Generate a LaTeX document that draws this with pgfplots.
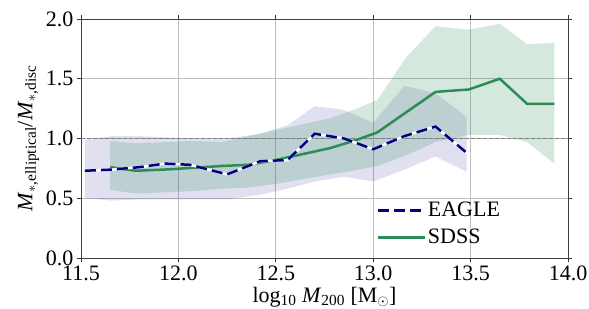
\documentclass[border=0pt]{standalone}
\usepackage{pgfplots}
\pgfplotsset{compat=1.18}
\usepgfplotslibrary{fillbetween}
\usepackage{fontspec}
\setmainfont{Liberation Serif}
\definecolor{eaglec}{RGB}{0,0,128}
\definecolor{sdssc}{RGB}{46,139,87}
\begin{document}
\begin{tikzpicture}[font=\fontsize{22}{26}\selectfont]
\begin{axis}[
  scale only axis, width=487pt, height=239pt,
  xmin=11.5, xmax=14, ymin=0, ymax=2,
  xtick={11.5,12.0,12.5,13.0,13.5,14.0},
  ytick={0,0.5,1.0,1.5,2.0},
  tick align=outside, major tick length=4pt,
  tick style={black!80, line width=0.8pt},
  axis line style={black!75, line width=0.9pt},
  grid=major, major grid style={black!25, line width=0.8pt},
  x tick label style={/pgf/number format/.cd, fixed, fixed zerofill, precision=1, assume math mode=true},
  y tick label style={/pgf/number format/.cd, fixed, fixed zerofill, precision=1, assume math mode=true},
  xlabel={log\textsubscript{10} \textit{M}\textsubscript{200} [M\textsubscript{$\odot$}]},
  ylabel={\textit{M}\textsubscript{$*$,elliptical}/\textit{M}\textsubscript{$*$,disc}},
  legend style={draw=none, fill=none, at={(0.6,0.035)}, anchor=south west, row sep=7pt},
  legend cell align=left,
  legend image code/.code={\draw[#1] (0pt,0pt) -- (47pt,0pt);},
]
\addlegendimage{eaglec, line width=2.5pt, dash pattern=on 11pt off 5pt}
\addlegendentry{EAGLE}
\addlegendimage{sdssc, line width=2.5pt}
\addlegendentry{SDSS}

% EAGLE band
\addplot[name path=eu, draw=none, forget plot] coordinates {
(11.52,0.99) (11.66,1.02) (11.80,1.02) (11.93,1.01) (12.06,1.00) (12.25,1.00) (12.42,1.04) (12.56,1.11) (12.70,1.27) (12.85,1.24) (13.00,1.13) (13.16,1.44) (13.32,1.38) (13.48,1.18)};
\addplot[name path=el, draw=none, forget plot] coordinates {
(11.52,0.50) (11.66,0.48) (11.80,0.49) (11.93,0.49) (12.06,0.49) (12.25,0.49) (12.42,0.53) (12.56,0.58) (12.70,0.64) (12.85,0.68) (13.00,0.64) (13.16,0.74) (13.32,0.85) (13.48,0.72)};
\addplot[fill=eaglec, fill opacity=0.12, draw=none, forget plot] fill between[of=eu and el];

% SDSS band
\addplot[name path=su, draw=none, forget plot] coordinates {
(11.65,0.98) (11.78,0.96) (11.93,0.97) (12.08,0.98) (12.22,0.97) (12.36,1.02) (12.50,1.07) (12.64,1.12) (12.78,1.17) (12.90,1.24) (13.02,1.32) (13.17,1.68) (13.32,1.94) (13.49,1.91) (13.65,1.96) (13.79,1.79) (13.93,1.80)};
\addplot[name path=sl, draw=none, forget plot] coordinates {
(11.65,0.57) (11.78,0.54) (11.93,0.55) (12.08,0.56) (12.22,0.58) (12.36,0.59) (12.50,0.62) (12.64,0.66) (12.78,0.70) (12.90,0.73) (13.02,0.77) (13.17,0.86) (13.32,0.97) (13.49,1.03) (13.65,1.03) (13.79,0.97) (13.93,0.79)};
\addplot[fill=sdssc, fill opacity=0.2, draw=none, forget plot] fill between[of=su and sl];

% reference line
\addplot[gray, line width=1pt, dash pattern=on 4pt off 2pt, forget plot] coordinates {(11.5,1) (14,1)};

% SDSS line
\addplot[sdssc, line width=2.5pt, forget plot] coordinates {
(11.65,0.76) (11.78,0.73) (11.93,0.74) (12.08,0.755) (12.22,0.77) (12.36,0.78) (12.50,0.82) (12.64,0.87) (12.78,0.92) (12.90,0.98) (13.02,1.05) (13.17,1.22) (13.32,1.39) (13.49,1.41) (13.65,1.50) (13.79,1.29) (13.93,1.29)};

% EAGLE line
\addplot[white, line width=2.5pt, forget plot] coordinates {
(11.52,0.73) (11.66,0.74) (11.80,0.76) (11.93,0.79) (12.06,0.78) (12.25,0.70) (12.42,0.81) (12.56,0.82) (12.70,1.04) (12.85,1.00) (13.00,0.91) (13.16,1.02) (13.32,1.10) (13.48,0.88)};
\addplot[eaglec, line width=2.5pt, dash pattern=on 11pt off 5pt, forget plot] coordinates {
(11.52,0.73) (11.66,0.74) (11.80,0.76) (11.93,0.79) (12.06,0.78) (12.25,0.70) (12.42,0.81) (12.56,0.82) (12.70,1.04) (12.85,1.00) (13.00,0.91) (13.16,1.02) (13.32,1.10) (13.48,0.88)};
\end{axis}
\pgfresetboundingbox
\path ([shift={(-81pt,-50pt)}]current axis.south west) rectangle ([shift={(21pt,19pt)}]current axis.north east);
\end{tikzpicture}
\end{document}
